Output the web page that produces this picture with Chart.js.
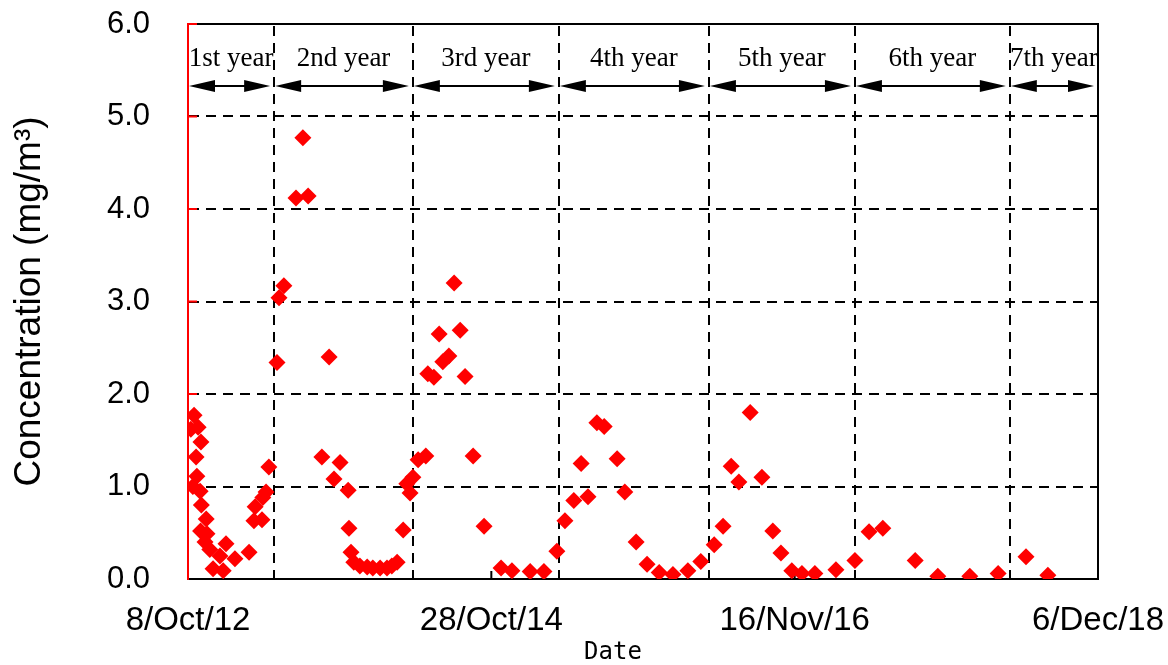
<!DOCTYPE html>
<html>
<head>
<meta charset="utf-8">
<script src="https://cdn.jsdelivr.net/npm/chart.js@4.4.0/dist/chart.umd.min.js"></script>
<style>
  body { margin: 0; background: #fff; }
  #chart { display: block; }
</style>
</head>
<body>
<canvas id="chart" width="1168" height="665"></canvas>
<script>
// sampling day, counted from 8 Oct 2012
const sampleDays = [
  7, 12, 15, 20, 22, 25, 30, 31, 32, 33, 42, 45, 47, 54, 62, 79, 87, 94, 116, 151,
  163, 166, 183, 185, 193, 200, 220, 225, 237, 267, 284, 297, 331, 349, 361, 376,
  396, 398, 403, 410, 425, 443, 457, 475, 492, 504, 517, 532, 541, 549, 556, 569,
  588, 593, 608, 621, 630, 645, 658, 673, 685, 705, 732, 774, 801, 846, 880, 912,
  932, 954, 972, 989, 1011, 1029, 1061, 1080, 1108, 1135, 1165, 1199, 1236, 1268,
  1301, 1323, 1343, 1362, 1390, 1419, 1446, 1466, 1493, 1518, 1550, 1602, 1649,
  1684, 1718, 1798, 1854, 1933, 2003, 2072, 2126
];
// concentration, mg/m3
const concentration = [
  1.62, 1.00, 1.77, 1.32, 1.11, 1.64, 0.95, 0.52, 1.48, 0.80, 0.40, 0.65, 0.49, 0.32, 0.11, 0.25, 0.09, 0.38, 0.22, 0.29,
  0.63, 0.78, 0.64, 0.88, 0.94, 1.21, 2.34, 3.04, 3.17, 4.12, 4.77, 4.14, 1.32, 2.40, 1.08, 1.26,
  0.96, 0.55, 0.29, 0.18, 0.14, 0.13, 0.12, 0.12, 0.12, 0.14, 0.18, 0.53, 1.03, 0.93, 1.10, 1.29,
  1.33, 2.22, 2.18, 2.65, 2.35, 2.41, 3.20, 2.69, 2.19, 1.33, 0.57, 0.12, 0.09, 0.08, 0.08, 0.30,
  0.63, 0.85, 1.25, 0.89, 1.69, 1.65, 1.30, 0.94, 0.40, 0.16, 0.07, 0.05, 0.09, 0.19,
  0.37, 0.57, 1.22, 1.05, 1.80, 1.10, 0.52, 0.28, 0.09, 0.06, 0.06, 0.10, 0.20,
  0.51, 0.55, 0.20, 0.03, 0.03, 0.06, 0.24, 0.04
];

const xTickDays = [0, 750, 1500, 2250];
const xTickLabels = ['8/Oct/12', '28/Oct/14', '16/Nov/16', '6/Dec/18'];

// monitoring years: start/end days and their names
const yearBounds = [0, 213, 556, 917, 1288, 1649, 2032, 2250];
const yearNames = ['1st year', '2nd year', '3rd year', '4th year', '5th year', '6th year', '7th year'];
const arrowLevel = 5.33;
const yearLabelLevel = 5.62;

function arrow(ctx, x0, x1, py) {
  const head = 26, half = 6;
  ctx.beginPath();
  ctx.moveTo(x0 + head - 2, py);
  ctx.lineTo(x1 - head + 2, py);
  ctx.stroke();
  ctx.beginPath();
  ctx.moveTo(x0, py);
  ctx.lineTo(x0 + head, py - half);
  ctx.lineTo(x0 + head, py + half);
  ctx.closePath();
  ctx.moveTo(x1, py);
  ctx.lineTo(x1 - head, py - half);
  ctx.lineTo(x1 - head, py + half);
  ctx.closePath();
  ctx.fill();
}

const yearBands = {
  id: 'yearBands',
  beforeDatasetsDraw(chart) {
    const { ctx, chartArea: a, scales: { x, y } } = chart;
    ctx.save();

    // top and right edges of the frame
    ctx.strokeStyle = '#000';
    ctx.lineWidth = 2;
    ctx.beginPath();
    ctx.moveTo(a.left, a.top);
    ctx.lineTo(a.right, a.top);
    ctx.lineTo(a.right, a.bottom);
    ctx.stroke();

    // inward ticks
    ctx.beginPath();
    xTickDays.slice(1, -1).forEach(d => {
      const px = x.getPixelForValue(d);
      ctx.moveTo(px, a.bottom);
      ctx.lineTo(px, a.bottom - 8);
    });
    ctx.stroke();
    ctx.strokeStyle = 'red';
    ctx.beginPath();
    for (let v = 1; v <= 6; v++) {
      const py = y.getPixelForValue(v);
      ctx.moveTo(a.left, py);
      ctx.lineTo(a.left + 9, py);
    }
    ctx.stroke();

    // axis title under the dates
    ctx.fillStyle = '#000';
    ctx.font = '24px "DejaVu Sans Mono"';
    ctx.textAlign = 'center';
    ctx.textBaseline = 'middle';
    ctx.fillText('Date', a.left + a.width * 0.467, 653);

    ctx.beginPath();
    ctx.rect(a.left, a.top, a.width, a.height);
    ctx.clip();

    // dashed year boundaries
    ctx.strokeStyle = '#000';
    ctx.setLineDash([10, 7]);
    ctx.beginPath();
    yearBounds.slice(1, -1).forEach(d => {
      const px = Math.round(x.getPixelForValue(d));
      ctx.moveTo(px, a.top + 2);
      ctx.lineTo(px, a.bottom);
    });
    ctx.stroke();
    ctx.setLineDash([]);

    // double arrows and year names
    const ay = y.getPixelForValue(arrowLevel);
    const ly = y.getPixelForValue(yearLabelLevel);
    ctx.lineWidth = 2;
    ctx.font = '27px "Liberation Serif"';
    yearNames.forEach((name, i) => {
      const x0 = x.getPixelForValue(yearBounds[i]);
      const x1 = x.getPixelForValue(yearBounds[i + 1]);
      arrow(ctx, x0 + 1, x1 - 4, ay);
      ctx.fillText(name, (x0 + x1) / 2, ly);
    });

    ctx.restore();
  }
};

new Chart(document.getElementById('chart'), {
  type: 'scatter',
  data: {
    datasets: [{
      data: sampleDays.map((d, i) => ({ x: d, y: concentration[i] })),
      pointStyle: 'rectRot',
      pointRadius: 8.5,
      pointHoverRadius: 8.5,
      backgroundColor: 'red',
      borderColor: 'red',
      borderWidth: 0,
    }],
  },
  options: {
    responsive: false,
    animation: false,
    events: [],
    layout: {
      padding: { top: 24, right: 70, left: 0, bottom: 0 },
    },
    plugins: {
      legend: { display: false },
      tooltip: { enabled: false },
    },
    scales: {
      x: {
        type: 'linear',
        min: 0,
        max: 2250,
        afterBuildTicks: (scale) => {
          scale.ticks = xTickDays.map(v => ({ value: v }));
        },
        afterFit: (scale) => {
          scale.height = 86;
          scale.paddingLeft = 0;
          scale.paddingRight = 0;
        },
        ticks: {
          padding: 22,
          color: '#000',
          font: { family: '"Liberation Sans"', size: 33 },
          maxRotation: 0,
          callback: (v) => xTickLabels[xTickDays.indexOf(v)],
        },
        grid: { display: false, drawTicks: false },
        border: { color: '#000', width: 2 },
      },
      y: {
        min: 0,
        max: 6,
        afterFit: (scale) => {
          scale.width = 188;
          scale.paddingTop = 0;
          scale.paddingBottom = 0;
        },
        ticks: {
          stepSize: 1,
          padding: 38,
          color: '#000',
          font: { family: '"Liberation Sans"', size: 31 },
          callback: (v) => v.toFixed(1),
        },
        grid: {
          drawTicks: false,
          lineWidth: 2,
          color: (c) => (c.tick && c.tick.value > 0 && c.tick.value < 6) ? '#000' : 'rgba(0,0,0,0)',
        },
        border: { color: 'red', width: 2, dash: [10, 7] },
        title: {
          display: true,
          text: 'Concentration (mg/m³)',
          color: '#000',
          font: { family: '"Liberation Sans"', size: 37 },
          padding: { top: 8, bottom: 0 },
        },
      },
    },
  },
  plugins: [yearBands],
});
</script>
</body>
</html>
